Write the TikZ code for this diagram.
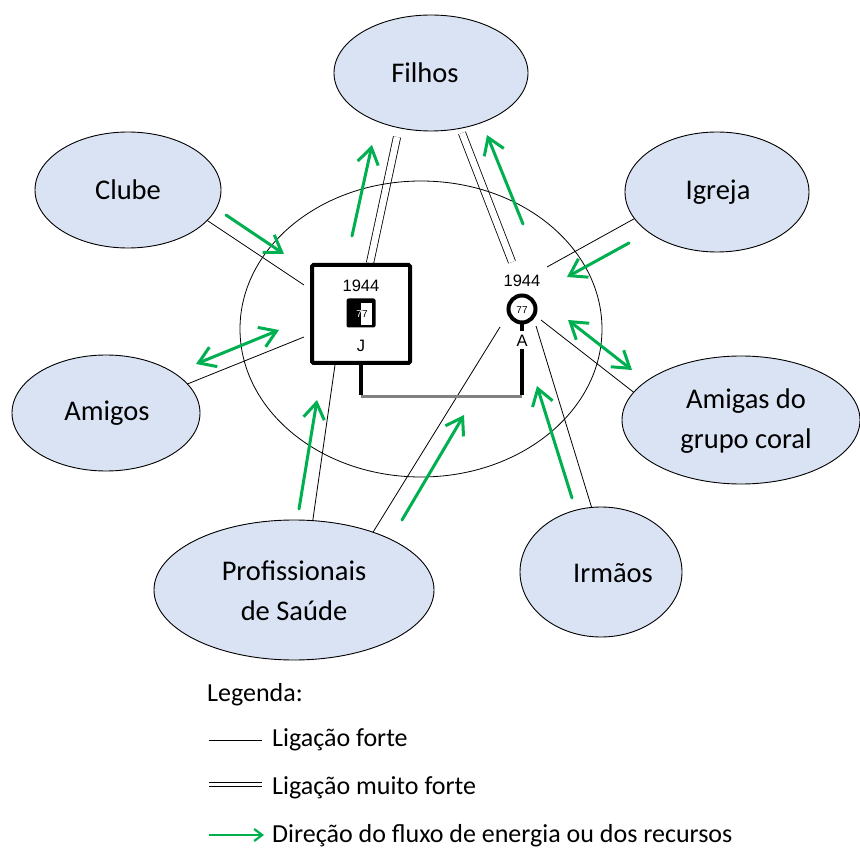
\documentclass[tikz,border=0pt]{standalone}
\usepackage{fontspec}
\setmainfont{Carlito}
\newfontfamily\arialf{Liberation Sans}
\usetikzlibrary{shapes.geometric,arrows.meta}
\definecolor{ellfill}{HTML}{DAE3F3}
\definecolor{arrgreen}{HTML}{00B050}
\begin{document}
\begin{tikzpicture}[x=1pt,y=-1pt,
  sat/.style={ellipse, draw=black, line width=0.9pt, fill=ellfill, inner sep=0pt},
  satlabel/.style={font=\fontsize{28.5}{40}\selectfont, align=center, inner sep=0pt},
  tie/.style={line width=0.8pt},
  strongtie/.style={line width=0.8pt, double, double distance=6.5pt},
  flow/.style={draw=arrgreen, line width=3pt, line cap=round, -{Straight Barb[length=16pt,width=21pt]}},
  flowtwo/.style={draw=arrgreen, line width=3pt, {Straight Barb[length=16pt,width=21pt]}-{Straight Barb[length=16pt,width=21pt]}},
  numf/.style={font=\arialf\fontsize{16.5}{16.5}\selectfont, inner sep=0pt},
  smallnum/.style={font=\arialf\fontsize{10}{10}\selectfont, inner sep=0pt},
  legf/.style={font=\fontsize{26}{30}\selectfont, anchor=west, inner sep=0pt},
]
\useasboundingbox (0,0) rectangle (860,850);
\fill[white] (0,0) rectangle (860,850);

% endpoints near the focal persons
\coordinate (pFilA1) at (397,137);
\coordinate (pFilA2) at (370,263);
\coordinate (pFilB1) at (462,133);
\coordinate (pFilB2) at (512,262);
\coordinate (pClu1) at (190,209);
\coordinate (pClu2) at (304,285);
\coordinate (pAmi1) at (170,391);
\coordinate (pAmi2) at (304,337);
\coordinate (pIgr1) at (650,210);
\coordinate (pIgr2) at (547,267);
\coordinate (pAmg1) at (650,405);
\coordinate (pAmg2) at (541,320);
\coordinate (pIrm1) at (597,525);
\coordinate (pIrm2) at (536,326);
\coordinate (pPsA1) at (310,540);
\coordinate (pPsA2) at (335,365);
\coordinate (pPsB1) at (362,550);
\coordinate (pPsB2) at (500,327);

% ties (drawn under the nodes)
\draw[strongtie] (pFilA1) -- (pFilA2);
\draw[strongtie] (pFilB1) -- (pFilB2);
\draw[tie] (pClu1) -- (pClu2);
\draw[tie] (pAmi1) -- (pAmi2);
\draw[tie] (pIgr1) -- (pIgr2);
\draw[tie] (pAmg1) -- (pAmg2);
\draw[tie] (pIrm1) -- (pIrm2);
\draw[tie] (pPsA1) -- (pPsA2);
\draw[tie] (pPsB1) -- (pPsB2);

% household ellipse
\node (home) [ellipse, draw, line width=0.8pt, minimum width=362pt, minimum height=296pt, inner sep=0pt] at (421,329) {};

% satellites
\node (filhos) [sat, minimum width=194pt, minimum height=116pt] at (431,73) {};
\node (filhosT) [satlabel] at (425,73) {Filhos};
\node (clube) [sat, minimum width=186pt, minimum height=116pt] at (128,190) {};
\node (clubeT) [satlabel] at (128,190) {Clube};
\node (igreja) [sat, minimum width=184pt, minimum height=120pt] at (717,192) {};
\node (igrejaT) [satlabel] at (718,192) {Igreja};
\node (amigos) [sat, minimum width=188pt, minimum height=116pt] at (106,413) {};
\node (amigosT) [satlabel] at (107,413) {Amigos};
\node (amigas) [sat, minimum width=238pt, minimum height=128pt] at (741,420) {};
\node (amigasT) [satlabel] at (746,421) {Amigas do\\grupo coral};
\node (prof) [sat, minimum width=280pt, minimum height=140pt] at (294,590) {};
\node (profT) [satlabel] at (294,591) {Profissionais\\de Saúde};
\node (irmaos) [sat, minimum width=162pt, minimum height=130pt] at (601,572) {};
\node (irmaosT) [satlabel] at (613,573) {Irmãos};

% focal persons
\node (sq) [draw, line width=4pt, minimum size=98pt, inner sep=0pt, rounded corners=1.5pt, fill=white] at (361,314) {};
\node (sqyear) [numf] at (361,286) {1944};
\node (sqicon) [fill=black, rounded corners=2pt, minimum size=29pt, inner sep=0pt] at (361,313) {};
\node[smallnum, text=white] at (362,314) {77};
\begin{scope}
  \clip (361,303) rectangle (372,325);
  \fill[white] (361,303) rectangle (372,325);
  \node[smallnum] at (362,314) {77};
\end{scope}
\node (sqname) [numf] at (361,346) {J};

\node (fe) [circle, draw, line width=4pt, minimum size=27pt, inner sep=0pt, fill=white] at (522,309) {};
\node[smallnum] at (522,310) {77};
\node (feyear) [numf] at (522,281) {1944};
\node (fename) [numf] at (522,341) {A};
\coordinate (feStub) at (522,331);
\draw[line width=4pt] (fe.south) -- (feStub);

% marriage
\coordinate (mL) at (361,397);
\coordinate (mR) at (522,397);
\coordinate (mRtop) at (522,349);
\draw[line width=4pt] (sq.south) -- ([yshift=2pt]mL);
\draw[line width=4pt] ([yshift=2pt]mR) -- (mRtop);
\draw[line width=3pt, color=gray] (mL) -- (mR);

% energy flow arrows
\coordinate (a1s) at (352,236); \coordinate (a1e) at (372,145);
\coordinate (a2s) at (523,224); \coordinate (a2e) at (487,135);
\coordinate (a3s) at (226,215); \coordinate (a3e) at (284,254);
\coordinate (a4s) at (196,364); \coordinate (a4e) at (279,330);
\coordinate (a5s) at (629,243); \coordinate (a5e) at (567,277);
\coordinate (a6s) at (568,320); \coordinate (a6e) at (632,370);
\coordinate (a7s) at (299,509); \coordinate (a7e) at (317,400);
\coordinate (a8s) at (402,520); \coordinate (a8e) at (464,415);
\coordinate (a9s) at (572,498); \coordinate (a9e) at (537,386);
\draw[flow] (a1s) -- (a1e);
\draw[flow] (a2s) -- (a2e);
\draw[flow] (a3s) -- (a3e);
\draw[flowtwo] (a4s) -- (a4e);
\draw[flow] (a5s) -- (a5e);
\draw[flowtwo] (a6s) -- (a6e);
\draw[flow] (a7s) -- (a7e);
\draw[flow] (a8s) -- (a8e);
\draw[flow] (a9s) -- (a9e);

% legend
\node (legtitle) [legf] at (207,695) {Legenda:};
\coordinate (l1a) at (209,740); \coordinate (l1b) at (262,740);
\draw[tie] (l1a) -- (l1b);
\node (leg1) [legf] at (272,740) {Ligação forte};
\coordinate (l2a) at (209,782.5); \coordinate (l2b) at (262,782.5);
\coordinate (l2c) at (209,786.5); \coordinate (l2d) at (262,786.5);
\draw[line width=1pt] (l2a) -- (l2b);
\draw[line width=1pt] (l2c) -- (l2d);
\node (leg2) [legf] at (272,788) {Ligação muito forte};
\coordinate (l3a) at (209,835); \coordinate (l3b) at (264,835);
\draw[draw=arrgreen, line width=2.2pt, -{Straight Barb[length=8pt,width=12pt]}] (l3a) -- (l3b);
\node (leg3) [legf] at (272,836) {Direção do fluxo de energia ou dos recursos};
\end{tikzpicture}
\end{document}
